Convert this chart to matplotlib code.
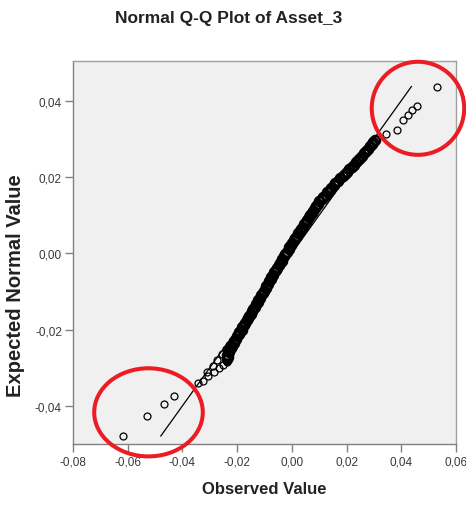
import matplotlib
matplotlib.use("Agg")
import matplotlib.pyplot as plt
from matplotlib.patches import Ellipse

plt.rcParams['font.family'] = ['Liberation Sans', 'DejaVu Sans']

# sorted observed returns (x) against expected normal quantiles (y)
tail_lo_x = [-0.0619, -0.0529, -0.0469, -0.0429,
             -0.0344, -0.0325, -0.0305, -0.0285, -0.0265, -0.0250, -0.0238,
             -0.0310, -0.0290, -0.0272, -0.0255, -0.0240, -0.0228]
tail_lo_y = [-0.0479, -0.0426, -0.0395, -0.0374,
             -0.0341, -0.0335, -0.0322, -0.0312, -0.0302, -0.0293, -0.0285,
             -0.0312, -0.0295, -0.0280, -0.0265, -0.0252, -0.0240]

body_y = [-0.0278, -0.0272, -0.0266, -0.0260, -0.0254, -0.0248, -0.0242, -0.0236,
          -0.0230, -0.0224, -0.0218, -0.0212, -0.0206, -0.0200, -0.0194, -0.0188,
          -0.0182, -0.0176, -0.0170, -0.0164, -0.0158, -0.0152, -0.0146, -0.0140,
          -0.0134, -0.0128, -0.0122, -0.0116, -0.0110, -0.0104, -0.0098, -0.0092,
          -0.0086, -0.0080, -0.0074, -0.0068, -0.0062, -0.0056, -0.0050, -0.0044,
          -0.0038, -0.0032, -0.0026, -0.0020, -0.0014, -0.0008, -0.0002, 0.0004,
          0.0010, 0.0016, 0.0022, 0.0028, 0.0034, 0.0040, 0.0046, 0.0052,
          0.0058, 0.0064, 0.0070, 0.0076, 0.0082, 0.0088, 0.0094, 0.0100,
          0.0106, 0.0112, 0.0118, 0.0124, 0.0130, 0.0136, 0.0142, 0.0148,
          0.0154, 0.0160, 0.0166, 0.0172, 0.0178, 0.0184, 0.0190, 0.0196,
          0.0202, 0.0208, 0.0214, 0.0220, 0.0226, 0.0232, 0.0238, 0.0244,
          0.0250, 0.0256, 0.0262, 0.0268, 0.0274, 0.0280, 0.0286, 0.0292, 0.0298]
body_x = [-0.0236, -0.0232, -0.0236, -0.0229, -0.0228, -0.0222, -0.0220, -0.0213,
          -0.0211, -0.0204, -0.0202, -0.0195, -0.0192, -0.0184, -0.0181, -0.0174,
          -0.0171, -0.0164, -0.0161, -0.0155, -0.0151, -0.0146, -0.0142, -0.0135,
          -0.0132, -0.0125, -0.0122, -0.0115, -0.0112, -0.0104, -0.0102, -0.0095,
          -0.0093, -0.0086, -0.0084, -0.0077, -0.0075, -0.0068, -0.0066, -0.0058,
          -0.0055, -0.0048, -0.0045, -0.0037, -0.0035, -0.0027, -0.0025, -0.0017,
          -0.0011, -0.0009, -0.0002, 0.0001, 0.0009, 0.0012, 0.0020, 0.0023,
          0.0031, 0.0034, 0.0042, 0.0045, 0.0053, 0.0056, 0.0064, 0.0067,
          0.0075, 0.0078, 0.0086, 0.0089, 0.0097, 0.0100, 0.0110, 0.0114,
          0.0123, 0.0128, 0.0138, 0.0143, 0.0153, 0.0159, 0.0170, 0.0176,
          0.0187, 0.0193, 0.0203, 0.0210, 0.0219, 0.0226, 0.0235, 0.0242,
          0.0250, 0.0256, 0.0264, 0.0270, 0.0278, 0.0284, 0.0292, 0.0297, 0.0305]

tail_hi_x = [0.0343, 0.0386, 0.0407, 0.0423, 0.0439, 0.0456, 0.0529]
tail_hi_y = [0.0313, 0.0323, 0.0349, 0.0363, 0.0376, 0.0387, 0.0437]

xticks = [-0.08, -0.06, -0.04, -0.02, 0.00, 0.02, 0.04, 0.06]
yticks = [-0.04, -0.02, 0.00, 0.02, 0.04]

all_exp = tail_lo_y + body_y + tail_hi_y

fig = plt.figure(figsize=(4.66, 5.06), dpi=100)
ax = fig.add_axes([73/466, 61/506, 383/466, 383/506])
ax.set_facecolor('#f0f0f0')

# y = x reference line across the range of expected values
ref = [min(all_exp), max(all_exp)]
ax.plot(ref, ref, color='black', lw=0.9, zorder=2)

# dense middle: overlapping circles merge into a solid band
ax.plot(body_x, body_y, linestyle='none', marker='o', ms=6.5, mfc='none',
        mec='black', mew=1.8, zorder=3)
ax.plot(tail_lo_x + tail_hi_x, tail_lo_y + tail_hi_y, linestyle='none',
        marker='o', ms=5, mfc='none', mec='black', mew=0.9, zorder=3)

ax.set_xlim(-0.08, 0.06)
ax.set_ylim(-0.0500, 0.0504)
ax.set_xticks(xticks)
ax.set_yticks(yticks)
ax.set_xticklabels([('%.2f' % t).replace('.', ',') for t in xticks])
ax.set_yticklabels([('%.2f' % t).replace('.', ',') for t in yticks])
ax.tick_params(length=6, width=1, color='#808080', labelsize=8.5,
               labelcolor='#3a3a3a', pad=2)
for s in ax.spines.values():
    s.set_color('#a0a0a0')
    s.set_linewidth(1)
ax.spines['left'].set_color('#808080')
ax.spines['bottom'].set_color('#808080')

# highlighted tails
for (cx, cy, w, h) in [(0.0461, 0.0380, 0.0338, 0.0244),
                        (-0.0524, -0.0417, 0.0397, 0.0231)]:
    ax.add_patch(Ellipse((cx, cy), w, h, fill=False, ec='#ec1c24',
                         lw=2.9, clip_on=False, zorder=5))

fig.text(229/466, 1 - 18/506, 'Normal Q-Q Plot of Asset_3', ha='center',
         va='center', fontsize=12.5, fontweight='bold', color='#222222')
fig.text(264/466, 1 - 490/506, 'Observed Value', ha='center', va='center',
         fontsize=12, fontweight='bold', color='#222222')
fig.text(16/466, 1 - 286/506, 'Expected Normal Value', ha='center',
         va='center', rotation=90, fontsize=14.5, fontweight='bold',
         color='#222222')

fig.savefig('out.png', dpi=100)
